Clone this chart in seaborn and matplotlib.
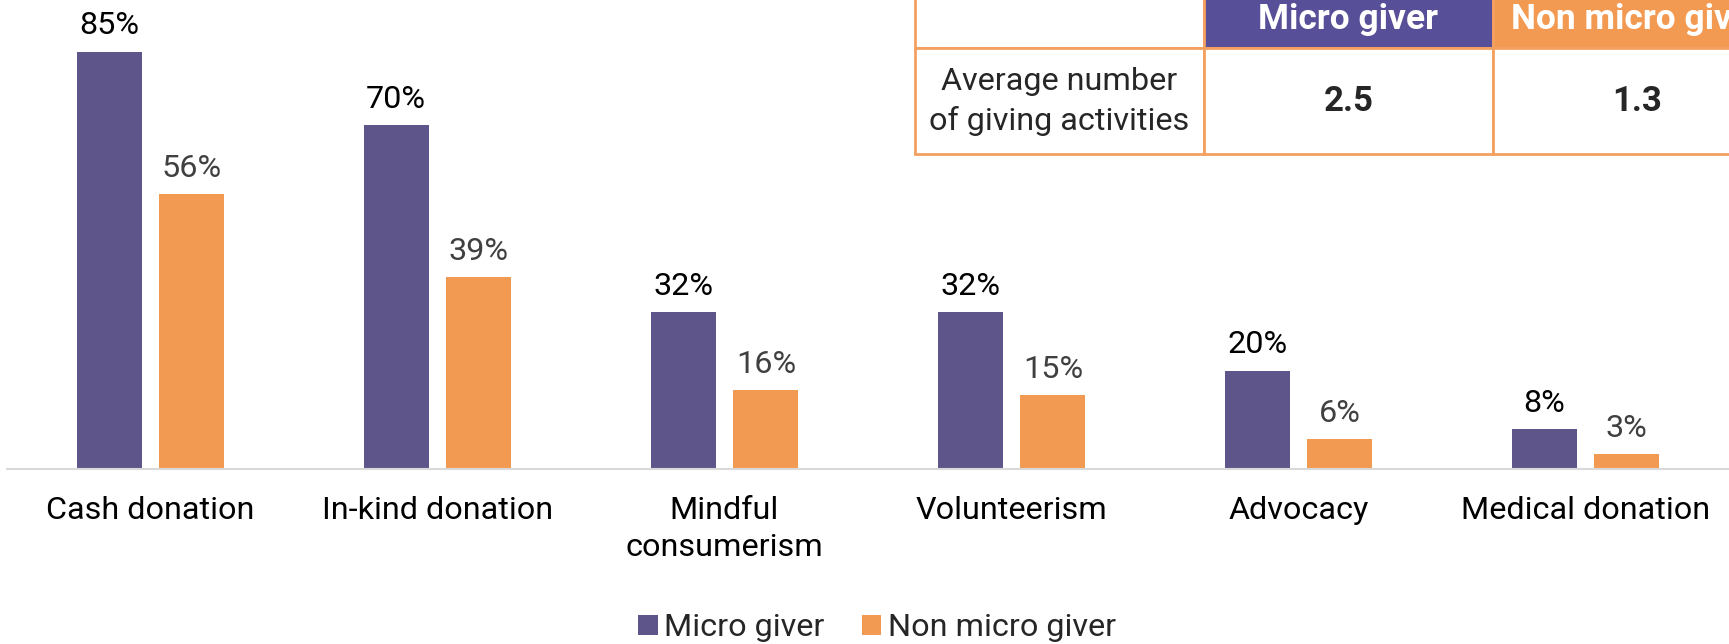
import pandas as pd
import numpy as np
import matplotlib
matplotlib.use("Agg")
import matplotlib.pyplot as plt
import seaborn as sns

# === Daten ===
categories = ["Cash donation", "In-kind donation", "Mindful\nconsumerism",
              "Volunteerism", "Advocacy", "Medical donation"]
micro_giver = [85, 70, 32, 32, 20, 8]
non_micro_giver = [56, 39, 16, 15, 6, 3]
groups = ["Micro giver", "Non micro giver"]

table_row_label = "Average number\nof giving activities"
table_values = ["2.5", "1.3"]

PURPLE = "#5E558A"
ORANGE = "#F39A52"
HEAD_PURPLE = "#574F97"
BORDER = "#F4A060"

df = pd.DataFrame({
    "category": categories * 2,
    "group": [groups[0]] * len(categories) + [groups[1]] * len(categories),
    "value": micro_giver + non_micro_giver,
})

sns.set_theme(style="white")
plt.rcParams["font.family"] = ["Roboto", "DejaVu Sans"]

FS = 23.3
W, H = 1729, 644
fig = plt.figure(figsize=(W / 100, H / 100), dpi=100)
ax = fig.add_axes([7 / W, 1 - 468.7 / H, 1 - 7 / W, 468.7 / H])

sns.barplot(data=df, x="category", y="value", hue="group", order=categories,
            hue_order=groups, palette=[PURPLE, ORANGE], width=0.576, gap=0.213,
            saturation=1, linewidth=0, ax=ax)

ax.set_ylim(0, 95.5)
ax.set_xlim(-0.5, len(categories) - 0.5)
ax.set_xlabel("")
ax.set_ylabel("")
ax.set_yticks([])
for s in ["top", "left", "right"]:
    ax.spines[s].set_visible(False)
ax.spines["bottom"].set_color("#D9D9D9")
ax.spines["bottom"].set_linewidth(1.5)
ax.tick_params(axis="x", length=0, pad=20, labelsize=FS, labelcolor="black")
for t in ax.get_xticklabels():
    t.set_linespacing(1.33)

label_colors = ["black", "#404040"]
for cont, col in zip(ax.containers, label_colors):
    ax.bar_label(cont, labels=[f"{v:.0f}%" for v in cont.datavalues],
                 padding=8, fontsize=FS, color=col)

# Legende
handles, labels = ax.get_legend_handles_labels()
ax.legend(handles, labels, loc="center", bbox_to_anchor=(877 / W, 1 - 628 / H),
          bbox_transform=fig.transFigure, ncol=2, frameon=False, fontsize=FS,
          handlelength=0.6, handleheight=0.6, handletextpad=0.2,
          columnspacing=1.16)

# Tabelle oben rechts
col_w = 289
tab_left, tab_top, tab_bottom = 915, -10, 154
head_h = 48.5 - tab_top
cell_text = [["", groups[0], groups[1]], [table_row_label] + table_values]
tab = ax.table(cellText=cell_text, cellLoc="center",
               bbox=[tab_left / W, 1 - tab_bottom / H, 3 * col_w / W, (tab_bottom - tab_top) / H],
               transform=fig.transFigure)
tab.auto_set_font_size(False)
for (r, c), cell in tab.get_celld().items():
    cell.set_edgecolor(BORDER)
    cell.set_linewidth(2)
    cell.set_clip_on(False)
    cell.get_text().set_fontsize(FS)
    if r == 0:
        cell.set_height(head_h / H)
        if c == 1:
            cell.set_facecolor(HEAD_PURPLE)
        elif c == 2:
            cell.set_facecolor(ORANGE)
        if c > 0:
            cell.get_text().set_color("white")
            cell.get_text().set_fontweight("bold")
            cell.get_text().set_fontsize(25.5)
    else:
        cell.set_height((tab_bottom - 48.5) / H)
        if c > 0:
            cell.get_text().set_fontweight("bold")
            cell.get_text().set_fontsize(25)
        else:
            cell.get_text().set_linespacing(1.4)
tab.set_clip_on(False)

fig.savefig("out.png", dpi=100)
